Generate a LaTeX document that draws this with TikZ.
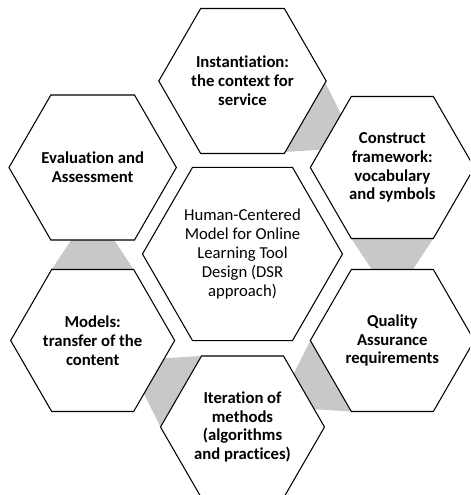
\documentclass[tikz,border=0pt]{standalone}
\usepackage{fontspec}
\setmainfont{Carlito}[Ligatures={NoCommon}]
\usetikzlibrary{shapes.geometric}
\usetikzlibrary{calc}
\usetikzlibrary{backgrounds}
\definecolor{linkgray}{RGB}{200,200,200}
\newcommand{\Ro}{1.64}

\begin{document}
\begin{tikzpicture}[
        hexbox/.style={regular polygon, regular polygon sides=6, draw=black, line width=0.6pt, fill=white, inner sep=0pt, outer sep=0pt, align=center, font=\fontsize{9.5}{10.7}\selectfont\bfseries},
        outerhex/.style={hexbox, minimum size=3.28cm},
        hubhex/.style={hexbox, minimum size=4cm, font=\fontsize{9.5}{10.7}\selectfont},
        link/.style={fill=linkgray}]
        \clip (-4.85,-4.82) rectangle (4.55,5.08);
        \node[hubhex] (hub) at (0,0) {Human-Centered\\Model for Online\\Learning Tool\\Design (DSR\\approach)};
        \node[outerhex] (inst) at (90:3.46) {Instantiation:\\the context for\\service};
        \node[outerhex] (cfw) at (30:3.46) {Construct\\framework:\\vocabulary\\and symbols};
        \node[outerhex] (qar) at (-30:3.46) {Quality\\Assurance\\requirements};
        \node[outerhex] (iter) at (-90:3.46) {Iteration of\\methods\\(algorithms\\and practices)};
        \node[outerhex] (models) at (-150:3.46) {Models:\\transfer of the\\content};
        \node[outerhex] (evalu) at (150:3.46) {Evaluation and\\Assessment};
        % gray links behind the hexagons
        \begin{scope}[on background layer]
            \foreach \ha/\hb/\dir in {inst/cfw/-30, cfw/qar/-90, qar/iter/-150, iter/models/150, models/evalu/90}
                \fill[link] ($(\ha)+(\dir+30:\Ro)$) -- ($(\ha)+(\dir-30:\Ro)$)
                    -- ($($(\hb)+(\dir+210:\Ro)$)!0.25!($(\hb)+(\dir+150:\Ro)$)$)
                    -- ($($(\hb)+(\dir+150:\Ro)$)!0.25!($(\hb)+(\dir+210:\Ro)$)$) -- cycle;
        \end{scope}
    \end{tikzpicture}
\end{document}
